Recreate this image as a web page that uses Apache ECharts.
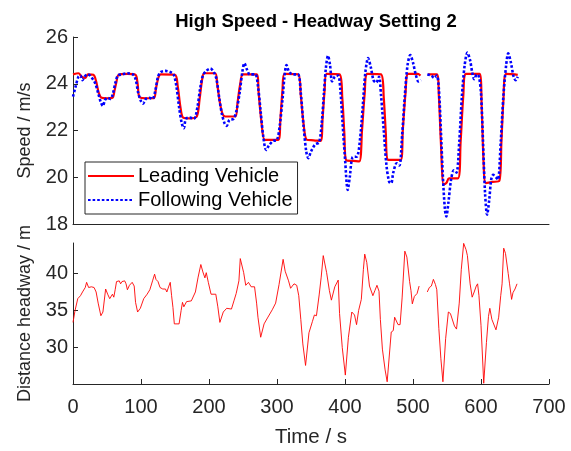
<!DOCTYPE html>
<html>
<head>
<meta charset="utf-8">
<script src="https://cdn.jsdelivr.net/npm/echarts@6/dist/echarts.min.js"></script>
<style>
  html, body { margin: 0; padding: 0; background: #fff; }
  #chart { width: 571px; height: 451px; }
</style>
</head>
<body>
<div id="chart"></div>
<script>
// Leading vehicle speed (m/s) over time (s)
const leadT = [0, 8, 13, 18, 22, 30, 34, 38, 42, 50, 58, 61, 64, 67, 80, 92, 95, 98, 108, 119, 122, 126, 129, 150, 154, 158, 162, 172, 182, 186, 190, 193, 209, 212, 216, 220, 224, 232, 239, 242, 246, 250, 270, 273, 277, 282, 292, 302, 305, 308, 311, 331, 335, 339, 344, 354, 364, 367, 370, 373, 392, 396, 399, 402, 412, 421, 425, 429, 433, 453, 457, 460, 463, 472, 482, 485, 489, 493, 507, 511, 516, 522, 535, 538, 541, 545, 549, 553, 566, 570, 574, 578, 598, 601, 604, 607, 617, 627, 630, 633, 637, 650, 654];
const leadV = [24.4, 24.45, 24.3, 24.25, 24.4, 24.38, 24.1, 23.6, 23.4, 23.38, 23.4, 23.7, 24.1, 24.38, 24.42, 24.38, 24.0, 23.42, 23.38, 23.38, 23.8, 24.3, 24.4, 24.38, 23.9, 23.0, 22.55, 22.52, 22.6, 23.3, 24.2, 24.45, 24.45, 24.0, 23.2, 22.7, 22.6, 22.6, 22.6, 23.2, 24.0, 24.4, 24.4, 23.6, 22.4, 21.6, 21.6, 21.6, 22.5, 23.7, 24.42, 24.4, 23.5, 22.3, 21.6, 21.58, 21.55, 22.5, 23.7, 24.42, 24.4, 23.4, 21.9, 20.72, 20.7, 20.68, 22.0, 23.6, 24.42, 24.4, 23.4, 21.9, 20.75, 20.74, 20.74, 22.0, 23.6, 24.42, 24.42, 24.35, null, 24.4, 24.4, 23.5, 21.5, 19.7, 19.75, 19.95, 19.95, 21.5, 23.5, 24.42, 24.42, 23.0, 20.5, 19.75, 19.8, 19.85, 21.5, 23.3, 24.42, 24.4, 24.38];

// Following vehicle speed (m/s) over time (s)
const followT = [0, 4, 8, 11, 14, 17, 21, 25, 29, 33, 37, 41, 44, 47, 51, 55, 58, 62, 66, 72, 80, 88, 92, 96, 100, 103, 107, 112, 117, 121, 125, 129, 136, 143, 148, 152, 156, 160, 163, 166, 172, 178, 183, 187, 191, 196, 202, 207, 211, 215, 219, 223, 226, 230, 236, 240, 245, 249, 252, 256, 260, 268, 272, 276, 280, 284, 288, 294, 300, 304, 308, 311, 314, 318, 324, 331, 335, 339, 343, 346, 350, 356, 362, 366, 369, 372, 375, 378, 381, 385, 390, 393, 396, 400, 404, 407, 411, 418, 422, 426, 430, 434, 438, 442, 446, 450, 453, 457, 461, 465, 468, 471, 476, 480, 484, 488, 492, 496, 500, 504, 508, 512, 516, 521, 527, 531, 535, 538, 541, 544, 547, 549, 552, 556, 560, 564, 568, 572, 576, 580, 584, 587, 590, 594, 597, 600, 603, 606, 609, 612, 615, 618, 622, 625, 629, 633, 637, 640, 644, 648, 651, 654];
const followV = [23.45, 23.9, 24.3, 24.35, 24.15, 24.3, 24.4, 24.35, 24.2, 24.0, 23.6, 23.2, 23.05, 23.3, 23.4, 23.35, 23.5, 24.0, 24.35, 24.4, 24.45, 24.4, 24.2, 23.6, 23.25, 23.15, 23.35, 23.4, 23.35, 23.7, 24.3, 24.5, 24.55, 24.5, 24.4, 23.9, 23.0, 22.3, 22.1, 22.5, 22.55, 22.5, 23.0, 23.8, 24.35, 24.55, 24.65, 24.5, 24.2, 23.4, 22.7, 22.3, 22.2, 22.45, 22.5, 22.8, 23.6, 24.5, 24.88, 24.6, 24.4, 24.4, 23.9, 22.8, 21.7, 21.17, 21.35, 21.55, 21.6, 22.2, 23.3, 24.3, 24.8, 24.5, 24.4, 24.4, 23.6, 22.2, 21.1, 20.82, 21.1, 21.4, 21.5, 22.4, 23.6, 24.7, 25.2, 24.8, 24.1, 24.3, 24.35, 23.8, 22.5, 20.8, 19.46, 20.0, 20.85, 20.9, 21.6, 23.0, 24.5, 25.1, 24.7, 24.15, 24.05, 24.3, 23.5, 22.0, 20.5, 19.8, 19.75, 20.2, 20.6, 20.5, 21.8, 23.5, 24.8, 25.23, 24.9, 24.4, 24.1, 24.15, null, 24.4, 24.35, 24.25, 24.35, 23.8, 22.0, 20.0, 18.6, 18.32, 18.9, 19.9, 20.3, 20.2, 21.5, 23.5, 24.8, 25.33, 25.0, 24.5, 24.2, 24.4, 24.3, 23.6, 21.5, 19.3, 18.4, 19.0, 19.9, 20.1, 20.0, 19.9, 21.5, 23.5, 24.8, 25.3, 24.9, 24.3, 24.15, 24.3];

// Distance headway (m) over time (s)
const headT = [0, 3, 7, 11, 14, 18, 20, 23, 27, 31, 34, 37, 41, 44, 48, 51, 54, 58, 60, 62, 64, 68, 70, 72, 76, 78, 80, 83, 87, 90, 92, 95, 99, 104, 109, 113, 117, 120, 122, 125, 128, 132, 136, 138, 141, 143, 145, 147, 149, 156, 159, 161, 163, 167, 174, 180, 184, 188, 191, 194, 196, 199, 203, 210, 213, 216, 221, 226, 233, 237, 240, 244, 246, 251, 254, 258, 262, 267, 270, 272, 276, 281, 286, 293, 298, 303, 309, 312, 317, 320, 325, 329, 332, 335, 338, 342, 347, 352, 355, 358, 362, 365, 368, 373, 377, 380, 385, 390, 392, 396, 400.5, 405, 410, 414, 417, 420, 424, 427, 429, 432, 436, 441, 444, 447, 450, 452, 455, 459, 462, 468, 471, 473, 478, 481, 484, 488, 491, 495, 497, 499, 502, 506, 509, 515, 521, 524, 527, 530, 533, 535, 538, 541, 544, 548, 552, 555, 557, 561, 564, 568, 571, 574.5, 578, 580, 584, 587, 590, 593, 595, 597, 600, 604, 608, 611, 613, 616, 618, 622, 626, 629, 631, 633.4, 636, 640, 642, 645, 647, 650, 653];
const headV = [33.4, 35.0, 36.6, 37.0, 37.5, 38.1, 38.8, 38.1, 38.2, 38.1, 37.5, 36.0, 34.3, 34.8, 37.9, 37.2, 36.6, 37.2, 36.8, 37.8, 38.9, 39.0, 38.6, 38.9, 39.0, 38.6, 37.8, 38.4, 38.8, 38.3, 36.1, 34.8, 35.3, 36.6, 37.2, 37.8, 39.0, 39.9, 39.2, 38.9, 38.1, 37.9, 37.9, 37.5, 38.3, 38.8, 37.0, 35.4, 33.2, 33.2, 35.0, 36.1, 35.5, 36.2, 36.3, 37.5, 39.5, 41.2, 40.2, 39.4, 40.1, 38.8, 37.2, 37.2, 35.5, 33.4, 34.8, 35.3, 35.2, 36.4, 37.3, 39.0, 42.0, 40.1, 38.4, 38.8, 38.2, 38.2, 36.0, 34.1, 31.4, 33.2, 34.0, 35.1, 36.0, 38.5, 41.9, 40.3, 39.0, 38.0, 38.6, 38.4, 37.0, 33.8, 30.5, 27.6, 32.0, 33.5, 34.4, 34.3, 37.1, 39.5, 42.4, 40.1, 37.7, 36.4, 38.2, 39.1, 34.6, 30.0, 26.3, 31.4, 34.8, 34.4, 33.1, 35.0, 36.5, 40.5, 42.6, 41.5, 38.3, 37.0, 37.7, 38.4, 37.6, 33.8, 29.8, 27.0, 25.4, 32.1, 32.3, 34.1, 33.1, 33.1, 36.7, 43.0, 42.2, 38.9, 37.7, 35.9, 36.9, 37.3, 38.3, null, 37.5, 38.1, 38.3, 39.2, 38.5, 37.8, 32.6, 28.5, 25.4, 31.2, 34.8, 34.6, 34.4, 32.9, 32.5, 36.0, 40.5, 44.05, 43.2, 42.4, 38.6, 36.8, 37.5, 38.3, 38.6, 37.0, 33.0, 25.2, 30.7, 34.2, 35.3, 33.8, 33.8, 32.4, 34.1, 37.0, 38.6, 43.4, 42.7, 40.0, 38.6, 36.5, 37.4, 37.9, 38.6];

// Axis ranges and tick labels
const timeRange = [0, 700];
const timeStep = 100;
const speedRange = [18, 26];
const speedStep = 2;
const headRange = [25.1, 44.1];
const headTicks = [30, 35, 40];

const pairs = (ts, vs) => ts.map((t, i) => [t, vs[i] === null ? '-' : vs[i]]);

const INK = '#262626';
const FONT = 'Liberation Sans, Arial, sans-serif';

const chart = echarts.init(document.getElementById('chart'), null, { renderer: 'canvas' });

chart.setOption({
  animation: false,
  backgroundColor: '#fff',
  title: {
    text: 'High Speed - Headway Setting 2',
    left: 311, textAlign: 'center', top: 7,
    textStyle: { fontFamily: FONT, fontSize: 18.5, fontWeight: 'bold', color: '#000' }
  },
  legend: {
    orient: 'vertical',
    left: 85, top: 162,
    padding: [4, 5, 4, 2],
    itemGap: 4,
    itemWidth: 46,
    itemHeight: 14,
    itemStyle: { opacity: 0 },
    backgroundColor: '#fff',
    borderColor: '#262626',
    borderWidth: 1,
    textStyle: { fontFamily: FONT, fontSize: 20, color: '#000', padding: [0, 0, 0, -1] },
    data: ['Leading Vehicle', 'Following Vehicle']
  },
  grid: [
    { left: 73, right: 22, top: 37, height: 187 },
    { left: 73, right: 22, top: 243, height: 141 }
  ],
  xAxis: [
    {
      gridIndex: 0, type: 'value', min: timeRange[0], max: timeRange[1], interval: timeStep,
      axisLine: { lineStyle: { color: INK, width: 1 } },
      axisTick: { show: false }, axisLabel: { show: false }, splitLine: { show: false }
    },
    {
      gridIndex: 1, type: 'value', min: timeRange[0], max: timeRange[1], interval: timeStep,
      name: 'Time / s', nameLocation: 'middle', nameGap: 43,
      nameTextStyle: { fontFamily: FONT, fontSize: 20.5, color: INK },
      axisLine: { lineStyle: { color: INK, width: 1 } },
      axisTick: { inside: true, length: 5, lineStyle: { color: INK } },
      axisLabel: { fontFamily: FONT, fontSize: 20, color: INK, margin: 13 },
      splitLine: { show: false }
    }
  ],
  yAxis: [
    {
      gridIndex: 0, type: 'value', min: speedRange[0], max: speedRange[1], interval: speedStep,
      name: 'Speed / m/s', nameLocation: 'middle', nameGap: 39,
      nameTextStyle: { fontFamily: FONT, fontSize: 18, color: INK },
      axisLine: { show: true, lineStyle: { color: INK, width: 1 } },
      axisTick: { show: true, inside: true, length: 5, lineStyle: { color: INK } },
      axisLabel: { fontFamily: FONT, fontSize: 20, color: INK, margin: 5 },
      splitLine: { show: false }
    },
    {
      gridIndex: 1, type: 'value', min: headRange[0], max: headRange[1],
      name: 'Distance headway / m', nameLocation: 'middle', nameGap: 39,
      nameTextStyle: { fontFamily: FONT, fontSize: 18, color: INK },
      axisLine: { show: true, lineStyle: { color: INK, width: 1 } },
      axisTick: { show: true, inside: true, length: 5, lineStyle: { color: INK }, customValues: headTicks },
      axisLabel: { fontFamily: FONT, fontSize: 20, color: INK, margin: 5, customValues: headTicks },
      splitLine: { show: false }
    }
  ],
  series: [
    {
      name: 'Leading Vehicle', type: 'line', xAxisIndex: 0, yAxisIndex: 0,
      data: pairs(leadT, leadV), showSymbol: false, symbol: 'none', smooth: 0.3,
      connectNulls: false,
      lineStyle: { color: '#ff0000', width: 2.2 }, itemStyle: { color: '#ff0000' }
    },
    {
      name: 'Following Vehicle', type: 'line', xAxisIndex: 0, yAxisIndex: 0,
      data: pairs(followT, followV), showSymbol: false, symbol: 'none', smooth: 0.3,
      connectNulls: false,
      lineStyle: { color: '#0000ff', width: 2.6, type: [2.6, 2] }, itemStyle: { color: '#0000ff' }
    },
    {
      name: 'Distance headway', type: 'line', xAxisIndex: 1, yAxisIndex: 1,
      data: pairs(headT, headV), showSymbol: false, symbol: 'none',
      connectNulls: false,
      lineStyle: { color: '#ff0000', width: 0.9 }, itemStyle: { color: '#ff0000' }
    }
  ]
});
</script>
</body>
</html>
